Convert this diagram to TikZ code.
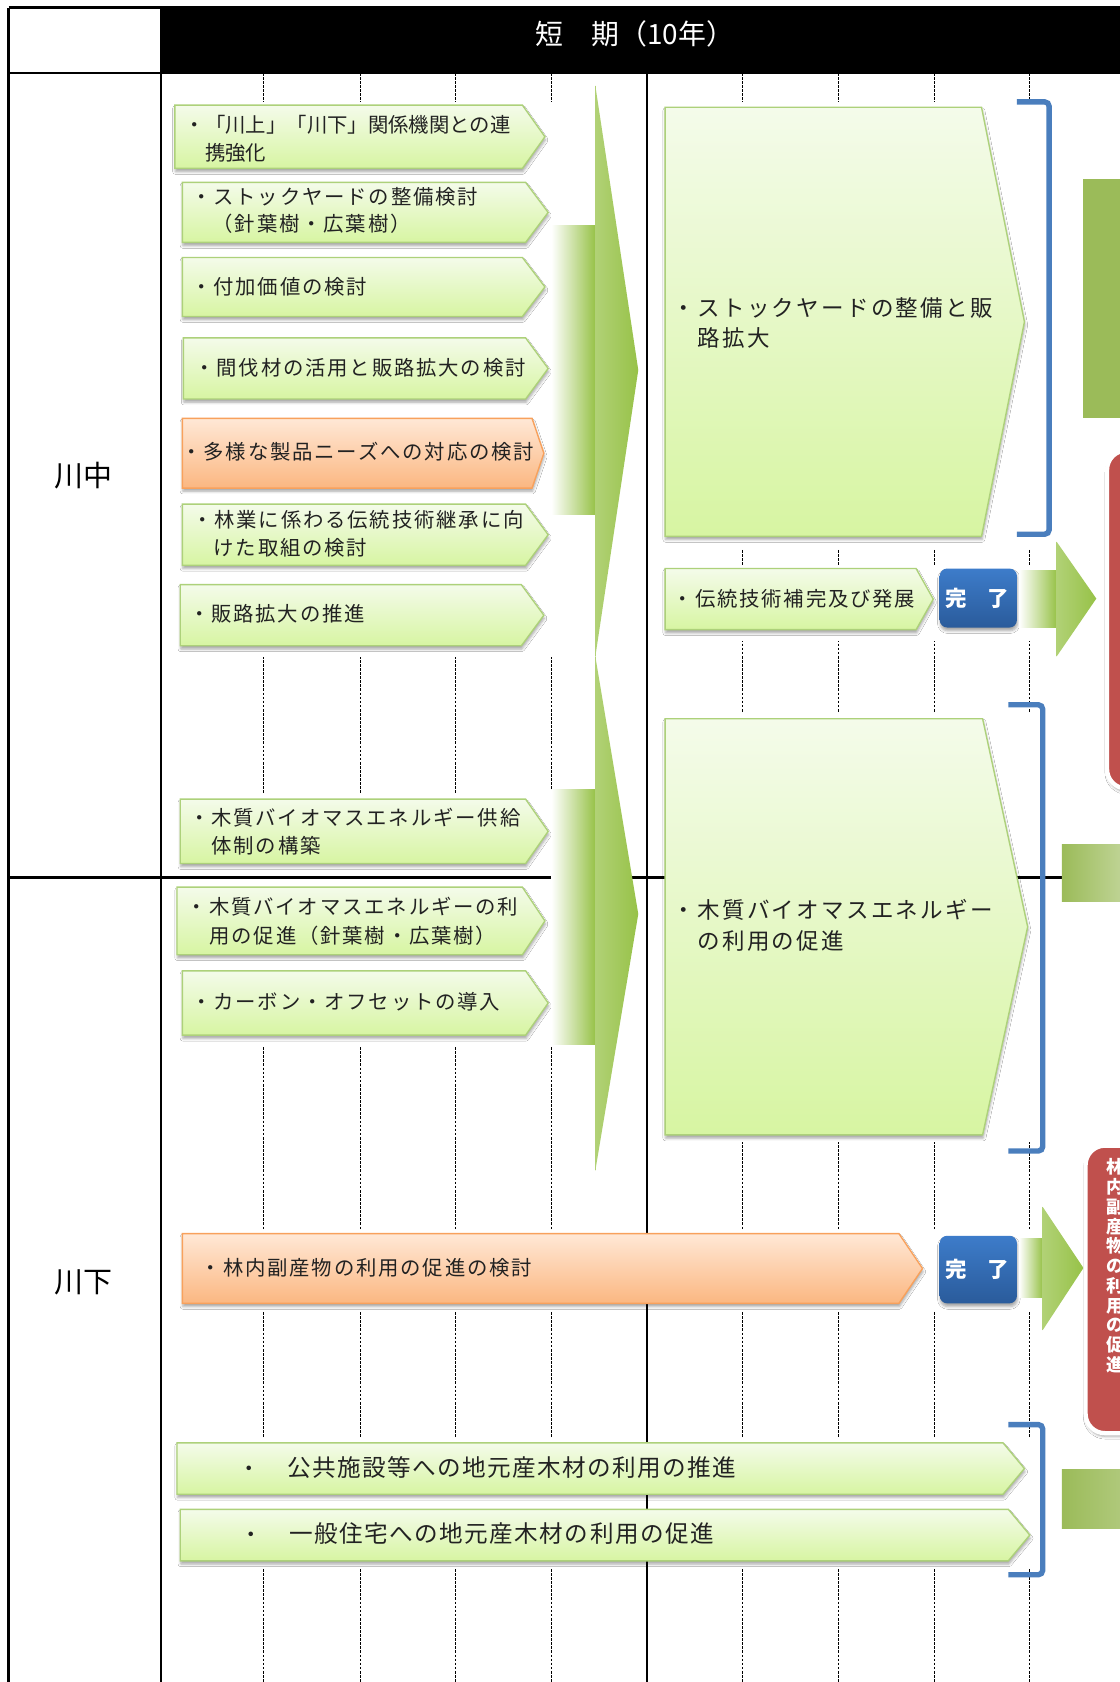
\documentclass[tikz,border=0pt]{standalone}
\usepackage{fontspec}
\usetikzlibrary{shadows.blur}
\newfontfamily\jp{Noto Sans CJK JP}
\newfontfamily\jpa[LetterSpace=9]{Noto Sans CJK JP}
\newfontfamily\jpb[LetterSpace=10]{Noto Sans CJK JP}
\newfontfamily\jpc[LetterSpace=6]{Noto Sans CJK JP}
\definecolor{gtop}{HTML}{F4FBEA}
\definecolor{gbot}{HTML}{D7F5A2}
\definecolor{gdraw}{HTML}{ADD17A}
\definecolor{otop}{HTML}{FFE8D6}
\definecolor{obot}{HTML}{FBB781}
\definecolor{odraw}{HTML}{F8A15C}
\definecolor{btop}{HTML}{3D7CCA}
\definecolor{bbot}{HTML}{2A5B9B}
\definecolor{brkc}{HTML}{4A7EBD}
\definecolor{fgreen}{HTML}{97C248}
\definecolor{sgreen}{HTML}{9BBB59}
\definecolor{rred}{HTML}{C0504D}
\definecolor{txt}{HTML}{222222}
\newcommand\pentabox[6]{\path[#1] (#2,#3) -- ({#4-#6},#3) -- (#4,{(#3+#5)/2}) -- ({#4-#6},#5) -- (#2,#5) -- cycle;}
\tikzset{
  gridl/.style={line width=0.8pt, dash pattern=on 2.5pt off 1.3pt},
  shd/.style={blur shadow={shadow xshift=0.5pt, shadow yshift=-3pt, shadow blur radius=2.5pt, shadow opacity=35}},
  gbox/.style={top color=gtop, bottom color=gbot, draw=gdraw, line width=1.3pt, shd},
  obox/.style={top color=otop, bottom color=obot, draw=odraw, line width=1.3pt, shd},
  bbox/.style={top color=btop, bottom color=bbot, rounded corners=7pt, shd},
  brk/.style={draw=brkc, line width=5pt, rounded corners=4pt},
  fbody/.style={left color=white, right color=fgreen},
  fhead/.style={left color=fgreen!75!white, right color=fgreen},
  rbox/.style={fill=rred, draw=white, line width=4pt, rounded corners=18pt, shd},
  lt/.style={anchor=base west, inner sep=0pt, text=txt, font=\jpa\fontsize{19}{22}\selectfont},
  lt1/.style={anchor=base west, inner sep=0pt, text=txt, font=\jp\fontsize{19}{22}\selectfont},
  bt/.style={anchor=base west, inner sep=0pt, text=txt, font=\jpb\fontsize{21}{24}\selectfont},
  ct/.style={anchor=base west, inner sep=0pt, text=txt, font=\jpc\fontsize{22}{24}\selectfont},
  wt/.style={anchor=base, inner sep=0pt, text=white, font=\jp\bfseries\fontsize{20}{22}\selectfont},
}
\begin{document}
\begin{tikzpicture}[x=1pt,y=-1pt]
\path[use as bounding box, fill=white] (0,0) rectangle (1044,1568);
\clip (0,0) rectangle (1044,1568);
% dashed grid
\foreach \x in {246,336,425,514,692,782,871,960} \draw[gridl] (\x,68) -- (\x,1568);
% masks behind the boxes
\fill[white] (152,95) rectangle (517,612);
\fill[white] (152,740) rectangle (517,975);
\fill[white] (607,95) rectangle (1000,512);
\fill[white] (607,527) rectangle (1000,598);
\fill[white] (607,665) rectangle (1000,1065);
\fill[white] (152,1146) rectangle (1000,1222);
\fill[white] (152,1340) rectangle (1000,1462);
% frame lines
\draw[line width=3pt] (8,7) -- (8,1568);
\draw[line width=2.5pt] (150,7) -- (150,1568);
\draw[line width=2.5pt] (603,68) -- (603,1568);
\draw[line width=2.5pt] (8,68) -- (1044,68);
\draw[line width=2pt] (8,818) -- (990,818);
% header
\fill[black] (150,6) rectangle (1044,68);
\draw[line width=3pt] (8,7) -- (150,7);
\node[anchor=base, inner sep=0pt, text=white, font=\jp\fontsize{26}{28}\selectfont] (hdr) at (592,41.9) {短　期（10年）};
\node[anchor=base, inner sep=0pt, text=black, font=\jp\fontsize{27}{30}\selectfont] (kawanaka) at (78,453.3) {川中};
\node[anchor=base, inner sep=0pt, text=black, font=\jp\fontsize{27}{30}\selectfont] (kawashimo) at (78,1205.3) {川下};
% funnel arrows
\path[fbody] (514,210) rectangle (555,480);
\path[fhead] (555,80) -- (595,345) -- (555,612) -- cycle;
\path[fbody] (514,736) rectangle (555,974);
\path[fhead] (555,612) -- (595,852) -- (555,1091) -- cycle;
% left boxes
\pentabox{gbox}{163}{98}{508}{157}{21}
\pentabox{gbox}{170}{170}{511}{226}{21}
\pentabox{gbox}{170}{240}{508}{295}{21}
\pentabox{gbox}{171}{315}{511}{372}{21}
\pentabox{obox}{170}{390}{507}{455}{11}
\pentabox{gbox}{170}{470}{511}{527}{21}
\pentabox{gbox}{168}{545}{507}{602}{21}
\pentabox{gbox}{168}{745}{511}{805}{21}
\pentabox{gbox}{165}{827}{508}{890}{21}
\pentabox{gbox}{170}{905}{511}{965}{21}
\node[lt1] (b1a) at (172,123.2) {・「川上」「川下」関係機関との連};
\node[lt1] (b1b) at (191,149.2) {携強化};
\node[lt] (b2a) at (178,190.2) {・ストックヤードの整備検討};
\node[lt] (b2b) at (198,216.2) {（針葉樹・広葉樹）};
\node[lt] (b3) at (178,274.2) {・付加価値の検討};
\node[lt] (b4) at (181,350.2) {・間伐材の活用と販路拡大の検討};
\node[lt] (b5) at (169,428.2) {・多様な製品ニーズへの対応の検討};
\node[lt] (b6a) at (179,492.2) {・林業に係わる伝統技術継承に向};
\node[lt] (b6b) at (199,518.2) {けた取組の検討};
\node[lt] (b7) at (176,579.2) {・販路拡大の推進};
\node[lt] (b8a) at (176,769.2) {・木質バイオマスエネルギー供給};
\node[lt] (b8b) at (197,795.2) {体制の構築};
\node[lt] (b9a) at (174,852.2) {・木質バイオマスエネルギーの利};
\node[lt] (b9b) at (195,879.2) {用の促進（針葉樹・広葉樹）};
\node[lt] (b10) at (178,941.2) {・カーボン・オフセットの導入};
% right big boxes
\pentabox{gbox}{620}{100}{955}{500}{40}
\node[bt] (r1a) at (627,295) {・ストックヤードの整備と販};
\node[bt] (r1b) at (650,323) {路拡大};
\pentabox{gbox}{620}{530}{870}{587}{16}
\node[lt] (dento) at (627,565.2) {・伝統技術補完及び発展};
\path[bbox] (876,530) rectangle (948,585);
\node[wt] (kanryo1) at (911,565.6) {完　了};
\path[fbody] (950,532) rectangle (985,585);
\path[fhead] (985,505) -- (1022,558) -- (985,612) -- cycle;
\pentabox{gbox}{620}{670}{958}{1058}{42}
\node[bt] (r2a) at (627,856) {・木質バイオマスエネルギー};
\node[bt] (r2b) at (650,885) {の利用の促進};
% brackets
\draw[brk] (948,95) -- (978,95) -- (978,498) -- (948,498);
\draw[brk] (940,657) -- (972,657) -- (972,1073) -- (940,1073);
\draw[brk] (940,1328) -- (972,1328) -- (972,1468) -- (940,1468);
% bottom rows
\pentabox{obox}{170}{1150}{860}{1215}{22}
\node[lt] (rinnai) at (187,1189.2) {・林内副産物の利用の促進の検討};
\path[bbox] (876,1152) rectangle (948,1215);
\node[wt] (kanryo2) at (911,1190.6) {完　了};
\path[fbody] (950,1155) rectangle (972,1210);
\path[fhead] (972,1125) -- (1010,1182) -- (972,1240) -- cycle;
\pentabox{gbox}{165}{1345}{955}{1393}{20}
\node[anchor=base, inner sep=0pt, text=txt, font=\jp\fontsize{20}{22}\selectfont] (g1dot) at (232,1376.4) {・};
\node[ct] (g1) at (268,1376.4) {公共施設等への地元産木材の利用の推進};
\pentabox{gbox}{168}{1407}{960}{1455}{20}
\node[anchor=base, inner sep=0pt, text=txt, font=\jp\fontsize{20}{22}\selectfont] (g2dot) at (234,1438.4) {・};
\node[ct] (g2) at (270,1438.4) {一般住宅への地元産木材の利用の促進};
% right edge elements
\fill[sgreen] (1010,167) rectangle (1050,390);
\path[rbox] (1032,420) rectangle (1100,735);
\path[left color=sgreen, right color=sgreen!65!white] (990,787) rectangle (1044,840);
\path[rbox] (1012,1068) rectangle (1100,1336);
\node[align=center, inner sep=0pt, text=white, font=\jp\bfseries\fontsize{16.5}{18.4}\selectfont] (vtext) at (1040,1180) {林\\内\\副\\産\\物\\の\\利\\用\\の\\促\\進};
\path[left color=sgreen, right color=sgreen!80!white] (990,1370) rectangle (1044,1425);
\end{tikzpicture}
\end{document}
